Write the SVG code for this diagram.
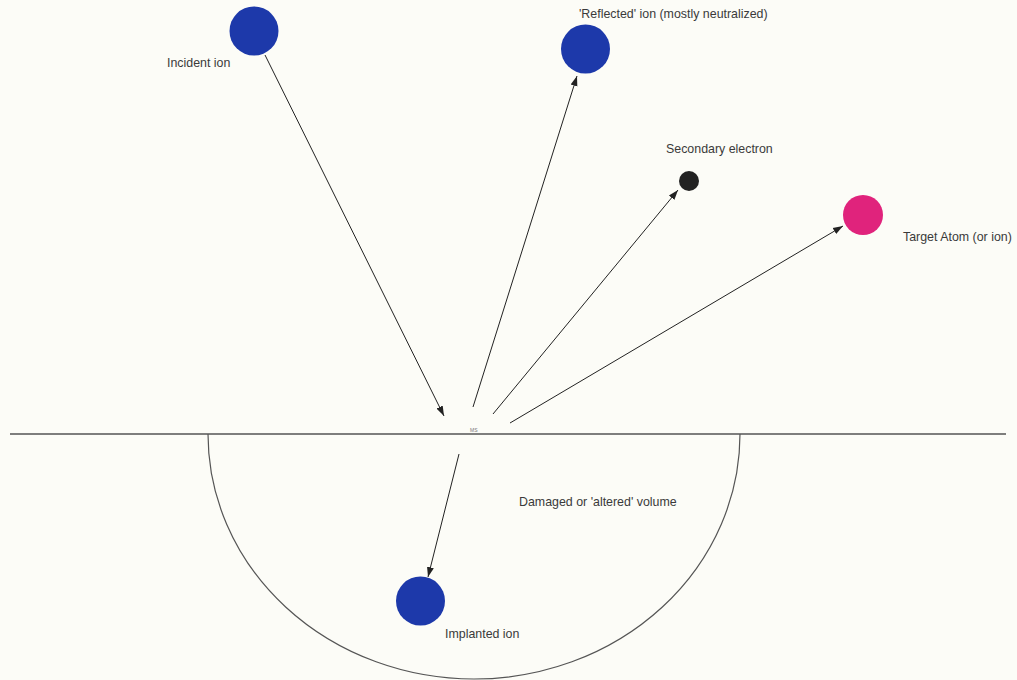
<svg xmlns="http://www.w3.org/2000/svg" width="1017" height="680" viewBox="0 0 1017 680">
<defs>
<style>
.lbl{font-family:"Liberation Sans",Arial,sans-serif;font-size:12.4px;fill:#3a3a3a}
.conn{stroke:#222;stroke-width:1;fill:none;marker-end:url(#ah)}
.ion{fill:#1d39aa}
</style>
<marker id="ah" viewBox="0 0 10 10" refX="10" refY="5" markerWidth="10" markerHeight="10" markerUnits="userSpaceOnUse" orient="auto">
<path d="M0,1.5 L10,5 L0,8.5 Z" fill="#222"/>
</marker>
</defs>
<rect width="1017" height="680" fill="#fcfcf7"/>
<g id="surface">
<line x1="10" y1="434" x2="1006" y2="434" stroke="#555" stroke-width="1.5"/>
<path d="M208,434 A266,245 0 0 0 740,434" fill="none" stroke="#555" stroke-width="1.2"/>
<text x="470" y="432" font-family="Liberation Sans,Arial,sans-serif" font-size="5" fill="#777">MS</text>
</g>
<g id="connectors">
<line class="conn" x1="265" y1="55" x2="444" y2="416"/>
<line class="conn" x1="473" y1="407" x2="577" y2="76"/>
<line class="conn" x1="493" y1="414" x2="678" y2="190"/>
<line class="conn" x1="510" y1="423" x2="843" y2="226"/>
<line class="conn" x1="459" y1="454" x2="428" y2="577"/>
</g>
<g id="incident">
<circle class="ion" cx="254" cy="31" r="24.5"/>
<text class="lbl" x="167" y="67">Incident ion</text>
</g>
<g id="reflected">
<circle class="ion" cx="585.5" cy="49" r="24.5"/>
<text class="lbl" x="579" y="18">'Reflected' ion (mostly neutralized)</text>
</g>
<g id="secondary">
<circle cx="689" cy="181" r="10" fill="#222"/>
<text class="lbl" x="666" y="153">Secondary electron</text>
</g>
<g id="target">
<circle cx="863" cy="215" r="20" fill="#e0237c"/>
<text class="lbl" x="903" y="241">Target Atom (or ion)</text>
</g>
<g id="volume">
<text class="lbl" x="519" y="506">Damaged or 'altered' volume</text>
</g>
<g id="implanted">
<circle class="ion" cx="420.5" cy="601" r="24.5"/>
<text class="lbl" x="445" y="638">Implanted ion</text>
</g>
</svg>
